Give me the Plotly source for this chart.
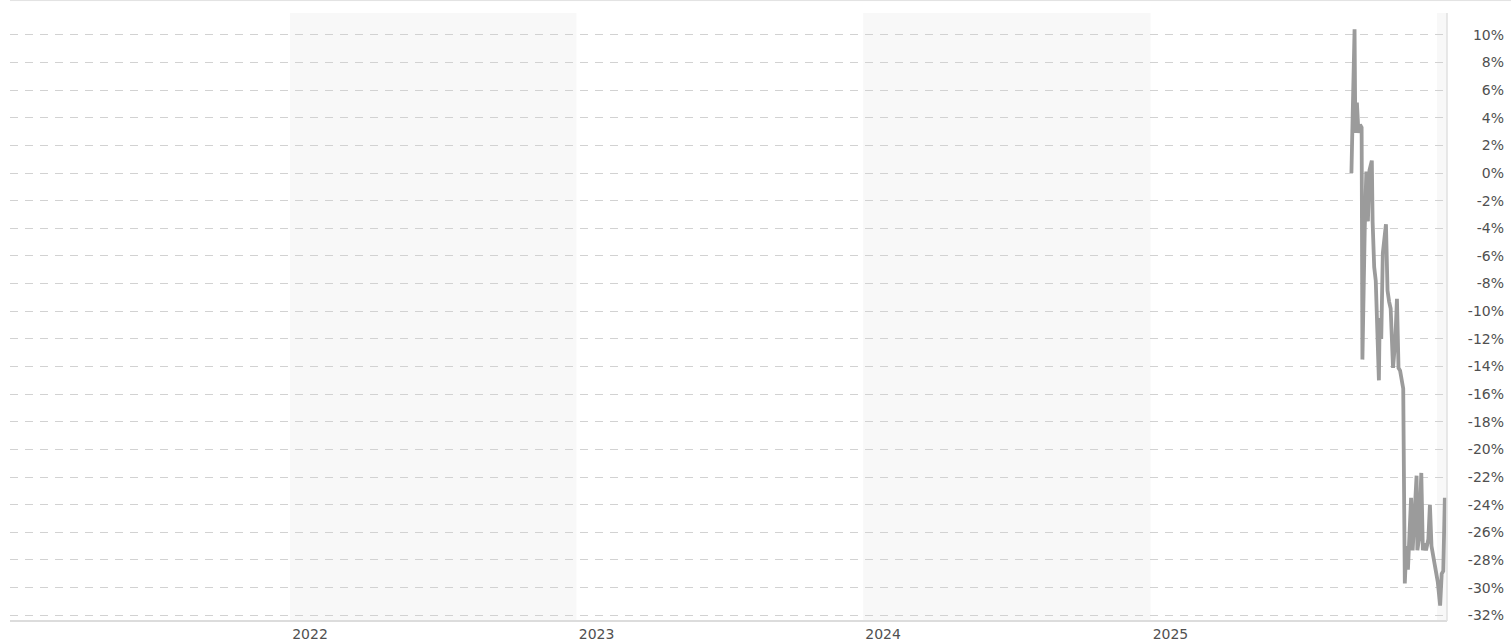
import plotly.graph_objects as go

# Daily % change since listing
dates = [
    "2025-09-14", "2025-09-18", "2025-09-19", "2025-09-21", "2025-09-23", "2025-09-25",
    "2025-09-27", "2025-09-28", "2025-10-01", "2025-10-03", "2025-10-05", "2025-10-07",
    "2025-10-10", "2025-10-11", "2025-10-13", "2025-10-15", "2025-10-19", "2025-10-20",
    "2025-10-22", "2025-10-24", "2025-10-28", "2025-10-30", "2025-11-01", "2025-11-03",
    "2025-11-06", "2025-11-09", "2025-11-11", "2025-11-13", "2025-11-15", "2025-11-17",
    "2025-11-19", "2025-11-21", "2025-11-23", "2025-11-25", "2025-11-28", "2025-11-29",
    "2025-12-01", "2025-12-03", "2025-12-06", "2025-12-07", "2025-12-09", "2025-12-12",
    "2025-12-14", "2025-12-16", "2025-12-18", "2025-12-21", "2025-12-23", "2025-12-25",
    "2025-12-28", "2026-01-01", "2026-01-02", "2026-01-05", "2026-01-07", "2026-01-09",
    "2026-01-11",
]
change_pct = [
    0.0, 10.4, 2.9, 5.1, 2.9, 3.5,
    3.3, -13.5, -4.0, 0.1, -3.5, 0.2,
    0.9, -3.5, -6.8, -7.8, -15.0, -10.5,
    -12.0, -5.8, -3.7, -8.5, -9.3, -9.8,
    -14.1, -12.0, -9.1, -14.1, -14.3, -15.0,
    -15.6, -29.7, -27.0, -28.7, -24.0, -23.5,
    -27.3, -25.0, -21.9, -27.3, -26.5, -21.7,
    -27.3, -26.8, -27.3, -26.5, -24.0, -27.0,
    -28.0, -29.0, -29.6, -31.3, -29.0, -28.8,
    -23.5,
]

# Axis ticks
pct_ticks = list(range(-32, 11, 2))
pct_labels = [f"{v}%" for v in pct_ticks]
year_ticks = ["2022-01-01", "2023-01-01", "2024-01-01", "2025-01-01"]
year_labels = ["2022", "2023", "2024", "2025"]

# Alternate-year shading
x_start, x_end = "2021-01-09 08:00", "2026-01-13 18:00"
shaded_years = [("2022-01-01", "2023-01-01"), ("2024-01-01", "2025-01-01"), ("2026-01-01", x_end)]

W, H = 1511, 642
M_L, M_R, M_T, M_B = 10, 0, 13, 2
plot_w = W - M_L - M_R
plot_h = H - M_T - M_B
frame_w = 1437            # width of the framed chart area
base_gap = 16             # space under the framed area kept for the lowest label
base = base_gap / plot_h  # paper y of the framed area's bottom edge

px_per_pct = (plot_h - base_gap) / 44.0
y_range = [-32.42 - base_gap / px_per_pct, 11.58]

fig = go.Figure()
fig.add_trace(go.Scatter(
    x=dates, y=change_pct, mode="lines",
    line=dict(color="#9b9b9b", width=3.8),
    hoverinfo="x+y", showlegend=False,
))

shapes = []
for x0, x1 in shaded_years:
    # translucent so the dashed grid still shows faintly through the band
    shapes.append(dict(
        type="rect", xref="x", yref="paper", x0=x0, x1=x1, y0=base, y1=1,
        fillcolor="rgba(245,245,245,0.7)", line=dict(width=0), layer="between",
    ))
# thin rule across the top of the chart
shapes.append(dict(
    type="line", xref="paper", yref="paper", x0=0, x1=1,
    y0=1 + 12.5 / plot_h, y1=1 + 12.5 / plot_h,
    line=dict(color="#e2e2e2", width=1),
))
# right edge of the framed area
shapes.append(dict(
    type="line", xref="paper", yref="paper",
    x0=frame_w / plot_w, x1=frame_w / plot_w, y0=base, y1=1,
    line=dict(color="#e0e0e0", width=1.5),
))

tick_font = dict(family="DejaVu Sans", size=14, color="#505050")

fig.update_layout(
    width=W, height=H,
    margin=dict(l=M_L, r=M_R, t=M_T, b=M_B),
    paper_bgcolor="white", plot_bgcolor="white",
    shapes=shapes,
    xaxis=dict(
        domain=[0, frame_w / plot_w],
        anchor="free", position=base,
        type="date", range=[x_start, x_end],
        tickvals=year_ticks, ticktext=year_labels,
        ticklabelshift=20,
        tickfont=tick_font,
        showgrid=False, zeroline=False,
        showline=True, linecolor="#dcdcdc", linewidth=1.5,
        ticks="",
    ),
    yaxis=dict(
        domain=[0, 1],
        range=y_range, anchor="free", position=1, side="right",
        tickvals=pct_ticks, ticktext=pct_labels,
        ticklabelposition="inside", ticklabelstandoff=4,
        tickfont=tick_font,
        showgrid=True, gridcolor="#d2d2d2", gridwidth=1, griddash="8px,7px",
        zeroline=False, showline=False, ticks="",
    ),
)

fig.write_html("out.html")
